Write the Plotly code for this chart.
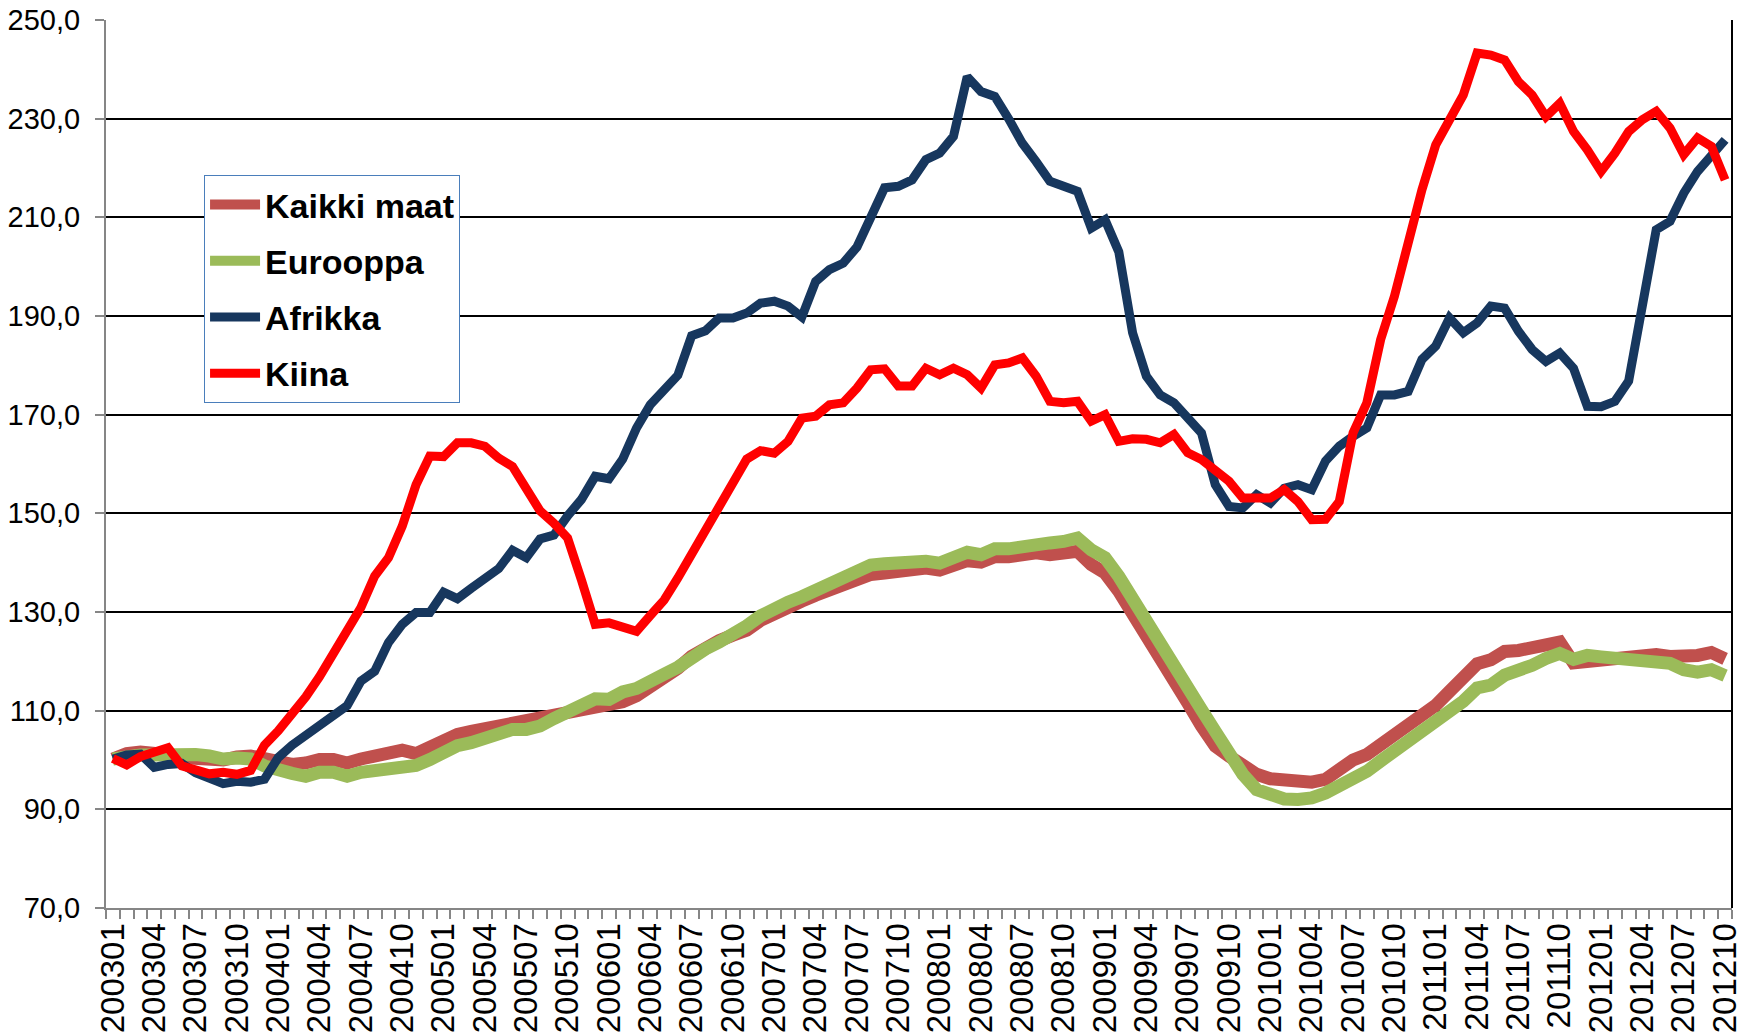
import plotly.graph_objects as go

# ---- categories (months 2003-01 ... 2012-10) ----
months = [f"{y}{m:02d}" for y in range(2003, 2013) for m in range(1, 13)][:118]
tick_labels = [m if k % 3 == 0 else "" for k, m in enumerate(months)]

# ---- series values ----
kaikki_maat = [
    100.2, 101.3, 101.6, 101.5, 101.1, 100.5, 100.3, 100.2, 100.0, 100.6,
    100.8, 100.3, 99.4, 99.1, 99.4, 100.1, 100.1, 99.4, 100.2, 101.0,
    101.7, 102.0, 101.3, 102.7, 104.5, 105.2, 105.8, 106.3, 107.0, 107.8,
    107.8, 108.2, 108.8, 109.5, 110.2, 110.7, 110.9, 111.8, 113.0, 114.8,
    116.4, 118.6, 121.0, 122.8, 124.2, 125.3, 126.3, 128.3, 129.8, 131.0,
    132.2, 133.4, 134.6, 135.8, 136.8, 137.6, 137.9, 138.3, 138.8, 138.9,
    138.5, 139.2, 140.4, 140.1, 141.2, 141.2, 141.8, 142.0, 141.6, 142.0,
    142.3, 139.6, 137.9, 134.2, 129.8, 125.8, 121.0, 116.3, 111.6, 106.9,
    102.8, 100.8, 98.9, 97.1, 96.2, 95.9, 95.7, 95.5, 96.1, 98.0,
    100.0, 101.1, 103.1, 105.2, 106.9, 108.5, 111.1, 113.9, 116.4, 119.5,
    120.3, 122.0, 122.2, 122.9, 123.8, 123.9, 119.7, 120.0, 120.4, 120.4,
    120.7, 121.2, 121.4, 121.0, 121.0, 121.2, 121.8, 120.5,
]
eurooppa = [
    100.2, 100.8, 101.0, 101.0, 101.2, 101.2, 101.1, 100.8, 100.2, 100.4,
    100.2, 98.8, 97.7, 97.3, 96.7, 97.5, 97.5, 96.7, 97.5, 97.9,
    98.5, 98.9, 98.9, 100.1, 101.8, 102.9, 103.5, 104.2, 105.2, 106.2,
    106.2, 106.9, 108.4, 109.9, 111.2, 112.4, 112.3, 113.8, 114.5, 116.2,
    117.4, 118.8, 120.8, 122.5, 123.9, 125.3, 127.2, 129.2, 130.8, 132.0,
    133.1, 134.3, 135.5, 137.1, 138.2, 139.5, 139.8, 140.0, 140.4, 140.3,
    139.9, 140.7, 142.1, 141.6, 142.8, 142.8, 143.4, 143.9, 144.0, 144.3,
    145.0, 142.6, 141.0, 137.2, 132.5, 128.5, 124.1, 119.0, 114.3, 110.2,
    105.8, 101.4, 97.1, 94.0, 92.8, 92.1, 92.0, 92.3, 93.3, 94.7,
    96.6, 97.7, 99.8, 101.8, 103.7, 105.3, 107.8, 110.0, 111.9, 114.6,
    115.2, 117.2, 117.9, 119.2, 120.6, 121.6, 120.4, 121.2, 120.9, 120.7,
    120.4, 120.2, 120.2, 119.6, 118.3, 117.8, 118.3, 117.1,
]
afrikka = [
    100.2, 101.0, 101.2, 98.5, 99.1, 99.3, 97.4, 96.1, 95.2, 95.7,
    95.5, 96.1, 100.5, 103.0, 105.0, 107.0, 109.4, 111.0, 116.0, 118.0,
    123.8, 127.5, 129.9, 129.9, 134.0, 132.7, 134.8, 137.0, 138.8, 142.5,
    141.0, 144.8, 145.6, 149.5, 152.8, 157.5, 157.0, 161.0, 167.3, 172.0,
    175.0, 178.0, 186.0, 187.0, 189.6, 189.6, 190.6, 192.6, 193.0, 192.0,
    189.8, 197.0, 199.4, 200.7, 204.0, 210.0, 216.0, 216.3, 217.6, 221.7,
    223.0, 226.4, 238.5, 235.5, 234.5, 230.0, 225.0, 221.3, 217.3, 216.3,
    215.3, 207.8, 209.5, 203.0, 186.6, 177.8, 174.0, 172.4, 169.0, 166.3,
    155.8, 151.4, 151.1, 153.8, 152.1, 155.1, 155.8, 154.8, 160.6, 163.6,
    165.6, 167.3, 174.0, 174.0, 174.7, 181.2, 183.9, 189.6, 186.6, 188.6,
    192.0, 191.6, 186.9, 183.2, 180.8, 182.5, 179.4, 171.7, 171.6, 172.7,
    176.8, 193.3, 207.5, 209.2, 214.9, 219.3, 222.7, 225.7,
]
kiina = [
    100.3, 99.0, 100.7, 101.7, 102.5, 98.8, 98.0, 97.2, 97.5, 97.1,
    97.9, 103.0, 105.9, 109.1, 112.8, 116.9, 121.5, 126.0, 130.9, 137.3,
    141.0, 147.4, 155.8, 161.6, 161.5, 164.3, 164.3, 163.6, 161.2, 159.5,
    155.3, 150.5, 148.0, 145.0, 136.5, 127.5, 127.8, 127.0, 126.1, 129.3,
    132.4, 136.9, 141.8, 146.7, 151.6, 155.7, 161.0, 162.7, 162.2, 164.6,
    169.3, 169.7, 172.0, 172.4, 175.4, 179.1, 179.3, 175.8, 175.8, 179.4,
    178.1, 179.4, 178.1, 175.4, 180.1, 180.5, 181.5, 177.8, 172.7, 172.4,
    172.7, 168.7, 170.0, 164.6, 165.1, 165.0, 164.3, 166.0, 162.3, 160.9,
    158.9, 156.5, 153.1, 153.1, 153.1, 154.8, 152.4, 148.7, 148.8, 152.4,
    166.3, 172.4, 185.2, 194.0, 205.5, 215.6, 224.7, 229.8, 234.8, 243.3,
    242.9, 241.9, 237.5, 234.8, 230.4, 233.1, 227.4, 223.7, 219.3, 223.0,
    227.4, 229.8, 231.5, 228.1, 222.7, 226.1, 224.4, 217.6,
]

y_ticks = [70, 90, 110, 130, 150, 170, 190, 210, 230, 250]

series = [
    ("Kaikki maat", kaikki_maat, "#C0504D", 13),
    ("Eurooppa", eurooppa, "#9BBB59", 13),
    ("Afrikka", afrikka, "#17375E", 9),
    ("Kiina", kiina, "#FF0000", 9),
]

FONT = "Liberation Sans, Arial, sans-serif"

fig = go.Figure()
for k, (name, vals, color, w) in enumerate(series):
    fig.add_trace(go.Scatter(
        x=months, y=vals, name=name, mode="lines",
        line=dict(color=color, width=w),
        legendgroup=f"g{k}",
    ))

fig.update_layout(
    width=1750, height=1033,
    margin=dict(l=106, r=18, t=20, b=125, autoexpand=False),
    paper_bgcolor="white", plot_bgcolor="white",
    separators=", ",
    font=dict(family=FONT, color="black"),
    showlegend=True,
    legend=dict(
        x=0.0603, y=0.8255, xanchor="left", yanchor="top",
        bgcolor="white", bordercolor="#4A7EBB", borderwidth=1,
        font=dict(family=FONT, size=34, color="black", weight="bold"),
        tracegroupgap=9, itemwidth=50,
    ),
    xaxis=dict(
        type="category", range=[-0.5, 117.5], automargin=False,
        tickmode="array", tickvals=months, ticktext=tick_labels,
        tickangle=-90, tickson="boundaries",
        ticks="outside", ticklen=9, tickcolor="#868686", tickwidth=1.5,
        showline=True, linecolor="#868686", linewidth=2,
        showgrid=False,
        tickfont=dict(family=FONT, size=33, color="black"),
    ),
    yaxis=dict(
        range=[70, 250], tickvals=y_ticks, tickformat=".1f", automargin=False,
        ticks="outside", ticklen=9, tickcolor="#868686", tickwidth=1.5,
        showline=True, linecolor="#868686", linewidth=2,
        showgrid=True, gridcolor="black", gridwidth=2,
        zeroline=False,
        tickfont=dict(family=FONT, size=29, color="black"),
        ticklabelstandoff=9,
    ),
    shapes=[
        dict(type="line", xref="paper", yref="paper", x0=1, x1=1, y0=0, y1=1,
             line=dict(color="black", width=2)),
    ],
)

fig.write_html("out.html", config={"displayModeBar": False},
               post_script="document.body.style.margin='0';")
